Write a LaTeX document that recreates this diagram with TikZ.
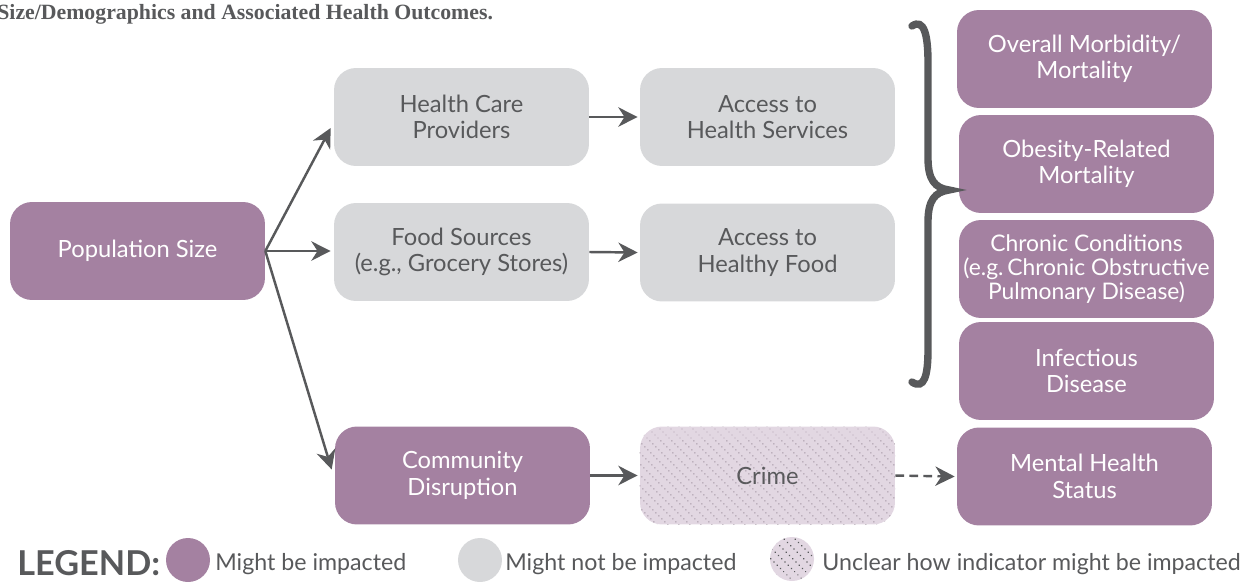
\documentclass[tikz,border=0pt]{standalone}
\usepackage{fontspec}
\setmainfont{Lato}
\newfontfamily\titlefont{Liberation Serif}
\usetikzlibrary{arrows.meta}
\definecolor{purp}{HTML}{A481A1}
\definecolor{lgray}{HTML}{D7D8DA}
\definecolor{dgray}{HTML}{58595B}
\definecolor{lpurp}{HTML}{E2D7E2}
\definecolor{dotc}{HTML}{8C7E8C}
\begin{document}
\begin{tikzpicture}[x=0.02cm,y=-0.02cm,
 box/.style={rounded corners=0.44cm, minimum width=5.1cm, minimum height=1.96cm, align=center, inner sep=0pt, font=\fontsize{13.5}{15}\selectfont},
 imp/.style={box, fill=purp, text=white},
 nimp/.style={box, fill=lgray, text=dgray},
 arr/.style={draw=dgray, line width=1.4pt, -{Stealth[length=11pt,width=11pt,inset=3.5pt]}},
 legtext/.style={anchor=base west, text=dgray, inner sep=0pt, font=\fontsize{13.2}{15}\selectfont},
 legdot/.style={circle, minimum size=0.88cm, inner sep=0pt},
 dotline/.style={draw=dotc, line width=0.75pt, dash pattern=on 0.01pt off 2.4pt, line cap=round},
]
\useasboundingbox (0,0) rectangle (1249,582);

% title (cut off at left, as in the reference)
\node[anchor=base west, inner sep=0pt, text=dgray, font=\titlefont\bfseries\fontsize{12.4}{14}\selectfont] (title) at (-3,19) {Size/Demographics and Associated Health Outcomes.};

% nodes
\node[imp] (pop) at (137.5,251) {Population Size};
\node[nimp] (hcp) at (461.5,117) {Health Care\\Providers};
\node[nimp] (ahs) at (767.5,117) {Access to\\Health Services};
\node[nimp] (fs) at (461.5,252) {Food Sources\\(e.g., Grocery Stores)};
\node[nimp] (ahf) at (767.5,252.5) {Access to\\Healthy Food};
\node[imp] (cd) at (462.5,475.5) {Community\\Disruption};
\node[box, fill=lpurp, text=dgray] (crime) at (767.5,475.5) {Crime};
\begin{scope}
  \clip[rounded corners=0.44cm] (crime.south west) rectangle (crime.north east);
  \foreach \i in {-110,-99,...,260} {
    \draw[dotline] (640+\i,420) -- (750+\i,530);
  }
\end{scope}

\node[imp] (omm) at (1084.5,59) {Overall Morbidity/\\Mortality};
\node[imp] (orm) at (1086.5,164) {Obesity-Related\\Mortality};
\node[imp, font=\fontsize{13}{13.6}\selectfont] (cc) at (1086.5,269) {Chronic Conditions\\(e.g.\,Chronic Obstructive\\Pulmonary Disease)};
\node[imp] (inf) at (1086.5,371) {Infectious\\Disease};
\node[imp] (mhs) at (1084.5,476.5) {Mental Health\\Status};

% connectors
\draw[arr] (pop.east) -- ([shift={(-3,11)}]hcp.west);
\draw[arr] (pop.east) -- ([shift={(-3,0)}]fs.west |- pop.east);
\draw[arr] (pop.east) -- ([shift={(-3,-6)}]cd.west);
\draw[arr] (hcp.east) -- ([shift={(-2,0)}]ahs.west);
\draw[arr] (fs.east) -- ([shift={(-2,0)}]ahf.west);
\draw[arr] (cd.east) -- ([shift={(-2,0)}]crime.west);
\draw[arr, dash pattern=on 5pt off 3pt] (crime.east) -- ([shift={(-2,0)}]mhs.west);

% brace
\draw[dgray, line width=4.2pt, line cap=round]
  (912,26) .. controls (924,18) and (928,35) .. (928,62)
  -- (928,158) .. controls (928,180) and (935,188) .. (949,190)
  .. controls (935,192) and (928,200) .. (928,222)
  -- (928,350) .. controls (928,376) and (924,390) .. (912,382);

% legend
\node[anchor=base west, inner sep=0pt, text=dgray, font=\bfseries\fontsize{19.5}{22}\selectfont] (leg) at (17,575) {LEGEND:};
\node[legdot, fill=purp] (d1) at (188,560) {};
\node[legtext] (t1) at (215,570) {Might be impacted};
\node[legdot, fill=lgray] (d2) at (480,560) {};
\node[legtext] (t2) at (505,570) {Might not be impacted};
\node[legdot, fill=lpurp] (d3) at (792,559) {};
\begin{scope}
  \clip (d3.center) circle (22);
  \foreach \i in {-44,-33,...,44} {
    \draw[dotline, draw=dgray, line width=0.9pt, dash pattern=on 0.01pt off 2.6pt] (770+\i,536) -- (815+\i,581);
  }
\end{scope}
\node[legtext] (t3) at (822,570) {Unclear how indicator might be impacted};
\end{tikzpicture}
\end{document}
